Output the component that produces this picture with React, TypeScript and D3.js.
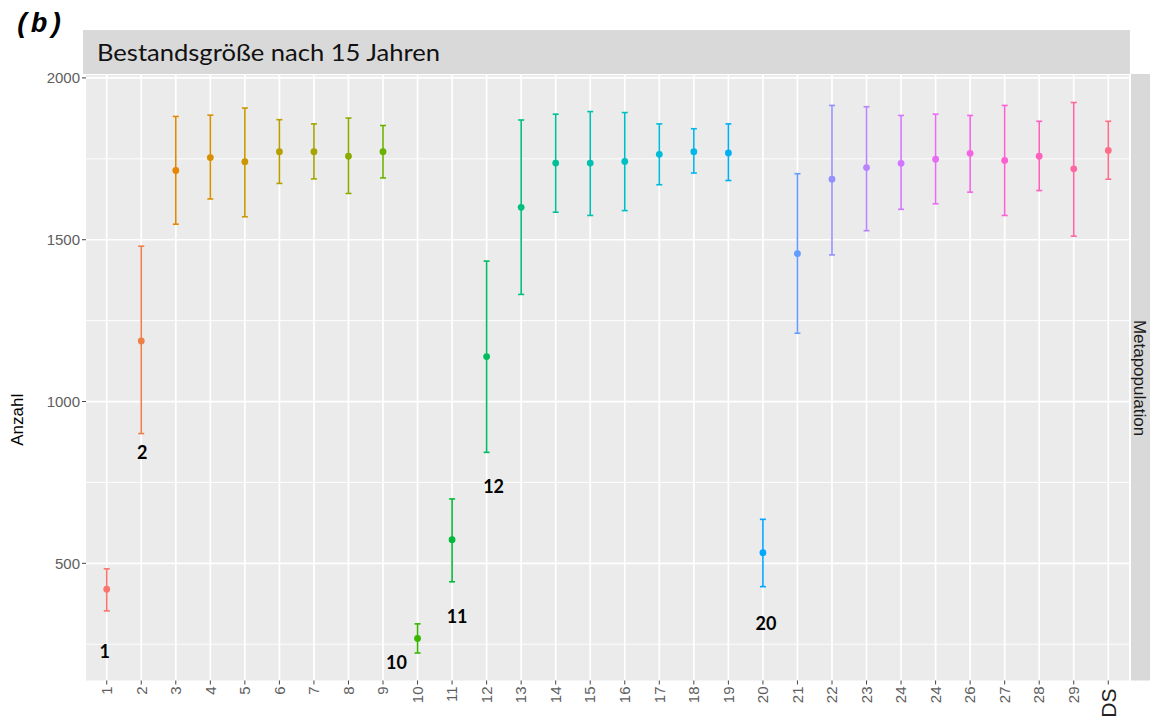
import React from 'react';
import * as d3 from 'd3';

// Scenario labels along the x axis (two scenarios share the label "24")
const categoryLabels = [
  '1', '2', '3', '4', '5', '6', '7', '8', '9', '10',
  '11', '12', '13', '14', '15', '16', '17', '18', '19', '20',
  '21', '22', '23', '24', '24', '26', '27', '28', '29', 'DS',
];

// Mean population size after 15 years
const meanValues = [
  420, 1187, 1714, 1754, 1741, 1772, 1772, 1758, 1772, 268,
  573, 1139, 1600, 1737, 1737, 1742, 1764, 1772, 1768, 533,
  1457, 1687, 1723, 1736, 1749, 1767, 1745, 1758, 1719, 1776,
];

// Lower end of the interval
const lowerValues = [
  353, 901, 1548, 1626, 1571, 1674, 1688, 1643, 1691, 223,
  443, 843, 1331, 1585, 1575, 1590, 1670, 1706, 1683, 428,
  1211, 1453, 1528, 1594, 1611, 1647, 1575, 1652, 1511, 1687,
];

// Upper end of the interval
const upperValues = [
  483, 1480, 1881, 1885, 1907, 1871, 1858, 1876, 1853, 313,
  699, 1434, 1870, 1888, 1896, 1893, 1858, 1843, 1858, 636,
  1704, 1915, 1911, 1884, 1888, 1884, 1915, 1866, 1924, 1866,
];

const yMajorTicks = [500, 1000, 1500, 2000];
const yMinorTicks = [250, 750, 1250, 1750];

// Annotated scenarios (index into the arrays above)
const annotatedIdx = [0, 1, 9, 10, 11, 19];

// Offsets of the annotation text from the lower whisker end, in px
const annotationOffsets: Record<number, [number, number]> = {
  0: [-2, 41],
  1: [1, 19],
  9: [-21, 10],
  10: [5, 35],
  11: [7, 34],
  19: [3, 37],
};

// ggplot-like hue palette: polar LUV (L=65, C=100) converted to sRGB
function hueColor(h: number): string {
  const L = 65, C = 100;
  const rad = (h * Math.PI) / 180;
  const U = C * Math.cos(rad);
  const V = C * Math.sin(rad);
  const Xn = 95.047, Yn = 100.0, Zn = 108.883;
  const Y = Yn * Math.pow((L + 16) / 116, 3);
  const den = Xn + 15 * Yn + 3 * Zn;
  const un = (4 * Xn) / den;
  const vn = (9 * Yn) / den;
  const up = U / (13 * L) + un;
  const vp = V / (13 * L) + vn;
  const X = (9 * Y * up) / (4 * vp);
  const Z = -X / 3 - 5 * Y + (3 * Y) / vp;
  const x = X / 100, y = Y / 100, z = Z / 100;
  const lin = [
    3.240479 * x - 1.53715 * y - 0.498535 * z,
    -0.969256 * x + 1.875992 * y + 0.041556 * z,
    0.055648 * x - 0.204043 * y + 1.057311 * z,
  ];
  const gam = (t: number) =>
    t <= 0.00304 ? 12.92 * t : 1.055 * Math.pow(t, 1 / 2.4) - 0.055;
  const c = lin.map((t) => Math.round(Math.max(0, Math.min(1, gam(t))) * 255));
  return d3.rgb(c[0], c[1], c[2]).formatHex();
}

const W = 1150;
const H = 722;
const panel = { left: 86, right: 1129, top: 75, bottom: 680.5 };

export default function App() {
  const n = categoryLabels.length;
  const idx = d3.range(n);

  const x = d3
    .scalePoint<number>()
    .domain(idx)
    .range([panel.left, panel.right])
    .padding(0.6);

  const lo = d3.min(lowerValues) as number;
  const hi = d3.max(upperValues) as number;
  const pad = (hi - lo) * 0.05;
  const y = d3
    .scaleLinear()
    .domain([lo - pad, hi + pad])
    .range([panel.bottom, panel.top]);

  const colors = idx.map((i) => hueColor(15 + (i * 360) / n));
  const capHalf = 3;
  const axisFont = '"Liberation Sans", Arial, sans-serif';

  return (
    <div style={{ position: 'absolute', left: 0, top: 0 }}>
      <svg width={W} height={H} style={{ display: 'block', background: '#fff' }}>
        {/* panel label */}
        <text
          x={14}
          y={32}
          fontFamily='"Liberation Mono", "DejaVu Sans Mono", monospace'
          fontWeight="bold"
          fontStyle="italic"
          fontSize={28}
          fill="#000"
        >
          (b)
        </text>

        {/* facet strip on top */}
        <rect x={83} y={30} width={1047} height={44} fill="#D9D9D9" />
        <text
          x={97}
          y={61}
          fontFamily="Lato, 'Open Sans', sans-serif"
          fontSize={24}
          textLength={343}
          lengthAdjust="spacingAndGlyphs"
          fill="#111"
        >
          Bestandsgröße nach 15 Jahren
        </text>

        {/* panel background */}
        <rect
          x={panel.left}
          y={panel.top}
          width={panel.right - panel.left}
          height={panel.bottom - panel.top}
          fill="#EBEBEB"
        />

        {/* minor horizontal grid */}
        {yMinorTicks.map((t) => (
          <line
            key={'mi' + t}
            x1={panel.left}
            x2={panel.right}
            y1={y(t)}
            y2={y(t)}
            stroke="#fff"
            strokeWidth={0.9}
          />
        ))}
        {/* major horizontal grid */}
        {yMajorTicks.map((t) => (
          <line
            key={'ma' + t}
            x1={panel.left}
            x2={panel.right}
            y1={y(t)}
            y2={y(t)}
            stroke="#fff"
            strokeWidth={1.7}
          />
        ))}
        {/* vertical grid */}
        {idx.map((i) => (
          <line
            key={'vg' + i}
            x1={x(i)}
            x2={x(i)}
            y1={panel.top}
            y2={panel.bottom}
            stroke="#fff"
            strokeWidth={1.7}
          />
        ))}

        {/* error bars and means */}
        {idx.map((i) => {
          const cx = x(i) as number;
          const c = colors[i];
          return (
            <g key={'eb' + i}>
              <line
                x1={cx}
                x2={cx}
                y1={y(lowerValues[i])}
                y2={y(upperValues[i])}
                stroke={c}
                strokeWidth={1.6}
              />
              <line
                x1={cx - capHalf}
                x2={cx + capHalf}
                y1={y(lowerValues[i])}
                y2={y(lowerValues[i])}
                stroke={c}
                strokeWidth={1.6}
              />
              <line
                x1={cx - capHalf}
                x2={cx + capHalf}
                y1={y(upperValues[i])}
                y2={y(upperValues[i])}
                stroke={c}
                strokeWidth={1.6}
              />
              <circle cx={cx} cy={y(meanValues[i])} r={3.4} fill={c} />
            </g>
          );
        })}

        {/* annotations below selected scenarios */}
        {annotatedIdx.map((i) => {
          const [dx, dy] = annotationOffsets[i];
          return (
            <text
              key={'an' + i}
              x={(x(i) as number) + dx}
              y={y(lowerValues[i]) + dy + 6.5}
              textAnchor="middle"
              fontFamily="Lato, 'Open Sans', sans-serif"
              fontWeight="bold"
              fontSize={18}
              fill="#000"
            >
              {categoryLabels[i]}
            </text>
          );
        })}

        {/* y axis */}
        {yMajorTicks.map((t) => (
          <g key={'yt' + t}>
            <line x1={panel.left - 4} x2={panel.left} y1={y(t)} y2={y(t)} stroke="#444" strokeWidth={1} />
            <text
              x={panel.left - 6}
              y={y(t)}
              dy="0.35em"
              textAnchor="end"
              fontFamily={axisFont}
              fontSize={15}
              fill="#5e5e5e"
            >
              {t}
            </text>
          </g>
        ))}
        <text
          transform={`translate(23, ${(panel.top + panel.bottom) / 2 + 42}) rotate(-90)`}
          textAnchor="middle"
          fontFamily={axisFont}
          fontSize={17}
          fill="#000"
        >
          Anzahl
        </text>

        {/* x axis */}
        {idx.map((i) => {
          const cx = x(i) as number;
          const isDS = categoryLabels[i] === 'DS';
          return (
            <g key={'xt' + i}>
              <line x1={cx} x2={cx} y1={panel.bottom} y2={panel.bottom + 4} stroke="#444" strokeWidth={1} />
              <text
                transform={`translate(${cx}, ${panel.bottom + (isDS ? 8 : 6)}) rotate(-90)`}
                dy={isDS ? '0.36em' : '0.35em'}
                textAnchor="end"
                fontFamily={axisFont}
                fontSize={isDS ? 21 : 15}
                fill={isDS ? '#222' : '#5e5e5e'}
              >
                {categoryLabels[i]}
              </text>
            </g>
          );
        })}

        {/* facet strip on the right */}
        <rect x={1131} y={74} width={19} height={panel.bottom - 74} fill="#D9D9D9" />
        <text
          transform={`translate(1140, ${378}) rotate(90)`}
          textAnchor="middle"
          dy="0.35em"
          fontFamily={axisFont}
          fontSize={17}
          fill="#1A1A1A"
        >
          Metapopulation
        </text>
      </svg>
    </div>
  );
}
